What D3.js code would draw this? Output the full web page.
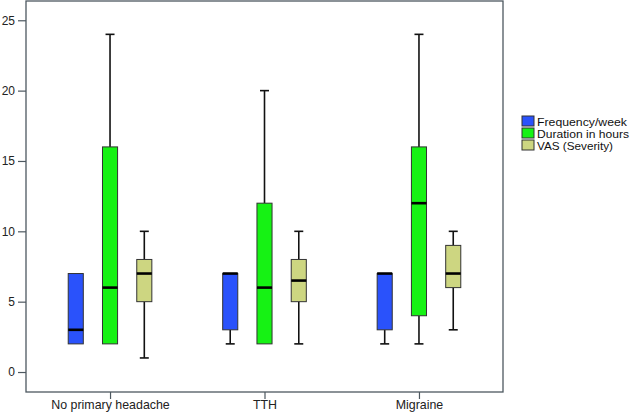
<!DOCTYPE html>
<html><head><meta charset="utf-8">
<script src="https://cdn.jsdelivr.net/npm/d3@7"></script>
<style>body{margin:0;background:#fff}svg{display:block}</style>
</head><body>
<svg id="c" width="632" height="420"></svg>
<script>
const categories = ["No primary headache", "TTH", "Migraine"];
const seriesNames = ["Frequency/week", "Duration in hours", "VAS (Severity)"];
const seriesColors = ["#2a52fb", "#16f214", "#cdd681"];
// [min, q1, median, q3, max] per category
const frequency = [[2, 2, 3, 7, 7], [2, 3, 7, 7, 7], [2, 3, 7, 7, 7]];
const duration  = [[2, 2, 6, 16, 24], [2, 2, 6, 12, 20], [2, 4, 12, 16, 24]];
const severity  = [[1, 5, 7, 8, 10], [2, 5, 6.5, 8, 10], [3, 6, 7, 9, 10]];
const yTicks = [0, 5, 10, 15, 20, 25];

const series = [frequency, duration, severity];
const svg = d3.select("#c");
const L = 26, R = 503, T = 1, B = 392;
const font = "'Liberation Sans', Arial, sans-serif";

const x = d3.scalePoint().domain(categories).range([L, R]).padding(0.544);
const xs = d3.scaleBand().domain(d3.range(3)).range([-61, 61]).padding(0.56);
const y = d3.scaleLinear().domain([-1.42, 26.37]).range([B, T]);

// frame
svg.append("rect").attr("x", L).attr("y", T).attr("width", R - L).attr("height", B - T)
  .attr("fill", "none").attr("stroke", "#4d5860").attr("stroke-width", 1.3);

// y axis
const ya = svg.append("g").attr("transform", `translate(${L},0)`)
  .call(d3.axisLeft(y).tickValues(yTicks).tickSize(8).tickPadding(3).tickFormat(d3.format("d")));
ya.select(".domain").remove();
ya.selectAll("line").attr("stroke", "#4d5860").attr("stroke-width", 1.2);
ya.selectAll("text").attr("font-family", font).attr("font-size", 12).attr("fill", "#222");

// x axis
const xa = svg.append("g").attr("transform", `translate(0,${B})`)
  .call(d3.axisBottom(x).tickSize(7).tickPadding(1));
xa.select(".domain").remove();
xa.selectAll("line").attr("stroke", "#4d5860").attr("stroke-width", 1.2);
xa.selectAll("text").attr("font-family", font).attr("font-size", 12.4).attr("fill", "#222");

// boxes
const bw = xs.bandwidth();
series.forEach((s, si) => {
  s.forEach((v, ci) => {
    const [mn, q1, md, q3, mx] = v;
    const cx = x(categories[ci]) + xs(si) + bw / 2;
    const g = svg.append("g");
    const cw = 9;
    if (mx > q3) {
      g.append("line").attr("x1", cx).attr("x2", cx).attr("y1", y(q3)).attr("y2", y(mx)).attr("stroke", "#111").attr("stroke-width", 1.6);
      g.append("line").attr("x1", cx - cw / 2).attr("x2", cx + cw / 2).attr("y1", y(mx)).attr("y2", y(mx)).attr("stroke", "#111").attr("stroke-width", 1.6);
    }
    if (mn < q1) {
      g.append("line").attr("x1", cx).attr("x2", cx).attr("y1", y(q1)).attr("y2", y(mn)).attr("stroke", "#111").attr("stroke-width", 1.6);
      g.append("line").attr("x1", cx - cw / 2).attr("x2", cx + cw / 2).attr("y1", y(mn)).attr("y2", y(mn)).attr("stroke", "#111").attr("stroke-width", 1.6);
    }
    g.append("rect").attr("x", cx - bw / 2).attr("y", y(q3)).attr("width", bw).attr("height", y(q1) - y(q3))
      .attr("fill", seriesColors[si]).attr("stroke", "#333").attr("stroke-width", 1);
    g.append("line").attr("x1", cx - bw / 2).attr("x2", cx + bw / 2).attr("y1", y(md)).attr("y2", y(md))
      .attr("stroke", "#000").attr("stroke-width", 2.6);
  });
});

// legend
const lg = svg.append("g").attr("transform", "translate(522,116)");
const legendWidths = [90, 92, 76];
seriesNames.forEach((n, i) => {
  lg.append("rect").attr("x", 0).attr("y", i * 12).attr("width", 12).attr("height", 10)
    .attr("fill", seriesColors[i]).attr("stroke", "#333").attr("stroke-width", 1);
  lg.append("text").attr("x", 15).attr("y", i * 12 + 9.5).text(n)
    .attr("font-family", font).attr("font-size", 10.5).attr("fill", "#111")
    .attr("textLength", legendWidths[i]).attr("lengthAdjust", "spacingAndGlyphs");
});
</script>
</body></html>
